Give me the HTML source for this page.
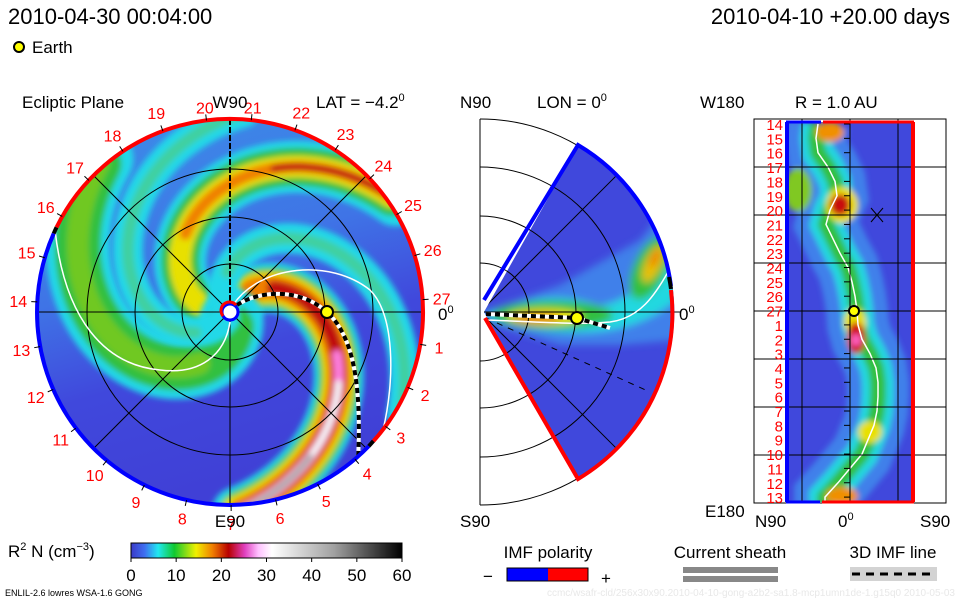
<!DOCTYPE html>
<html><head><meta charset="utf-8"><style>
html,body{margin:0;padding:0;background:#fff;}
svg{display:block;font-family:"Liberation Sans",sans-serif;}
</style></head><body>
<svg id="s" width="960" height="600" viewBox="0 0 960 600" xmlns="http://www.w3.org/2000/svg">
<defs>
<filter id="b4" x="-20%" y="-20%" width="140%" height="140%"><feGaussianBlur stdDeviation="4"/></filter>
<filter id="b3" x="-30%" y="-30%" width="160%" height="160%"><feGaussianBlur stdDeviation="3"/></filter>
<filter id="b6" x="-30%" y="-30%" width="160%" height="160%"><feGaussianBlur stdDeviation="6"/></filter>
<clipPath id="cc"><circle cx="230" cy="312" r="193"/></clipPath>
<clipPath id="wc"><path d="M484,312 L578,145 A193,193 0 0 1 578,479 Z"/></clipPath>
<clipPath id="rc"><rect x="786" y="122" width="128" height="380"/></clipPath>
<linearGradient id="bg1" x1="0" y1="0" x2="0.3" y2="1"><stop offset="0" stop-color="#3c8ee8"/><stop offset="0.45" stop-color="#3f74e6"/><stop offset="0.7" stop-color="#4048dc"/><stop offset="1" stop-color="#4040d6"/></linearGradient>
<linearGradient id="cbar" x1="0" x2="1" y1="0" y2="0">
<stop offset="0" stop-color="#3a3ac8"/><stop offset="0.05" stop-color="#3f6ef0"/><stop offset="0.1" stop-color="#20e8f0"/><stop offset="0.16" stop-color="#10c830"/><stop offset="0.24" stop-color="#f0f000"/><stop offset="0.3" stop-color="#f08000"/><stop offset="0.36" stop-color="#b80000"/><stop offset="0.42" stop-color="#e040c0"/><stop offset="0.47" stop-color="#ffc0ff"/><stop offset="0.52" stop-color="#ffffff"/><stop offset="0.75" stop-color="#a0a0a0"/><stop offset="1" stop-color="#000000"/></linearGradient>
</defs>

<text x="8" y="24" font-size="22" fill="#000">2010-04-30 00:04:00</text>
<text x="950" y="24" font-size="22" fill="#000" text-anchor="end">2010-04-10 +20.00 days</text>
<circle cx="19" cy="47" r="5" fill="#ffff00" stroke="#000" stroke-width="2"/>
<text x="32" y="53" font-size="17">Earth</text>

<text x="22" y="108" font-size="17">Ecliptic Plane</text>
<text x="316" y="108" font-size="17">LAT = −4.2<tspan dy="-7" font-size="11">0</tspan></text>
<text x="460" y="108" font-size="17">N90</text>
<text x="537" y="108" font-size="17">LON = 0<tspan dy="-7" font-size="11">0</tspan></text>
<text x="700" y="108" font-size="17">W180</text>
<text x="795" y="108" font-size="17">R = 1.0 AU</text>

<g id="ecl">
<circle cx="230" cy="312" r="193" fill="url(#bg1)"/>
<g id="arms" clip-path="url(#cc)"></g>
<g id="eclgrid" fill="none" stroke="#000" stroke-width="1"></g>
</g>

<g id="mer"></g>
<g id="rp"></g>

<g>
<text x="8" y="557" font-size="17">R<tspan dy="-7" font-size="11">2</tspan><tspan dy="7"> N (cm</tspan><tspan dy="-7" font-size="11">−3</tspan><tspan dy="7">)</tspan></text>
<rect x="131" y="543" width="271" height="15" fill="url(#cbar)" stroke="#000" stroke-width="1"/>
<g id="cbticks"></g>
</g>

<text x="548" y="558" font-size="17" text-anchor="middle">IMF polarity</text>
<text x="488" y="582" font-size="17" text-anchor="middle">−</text>
<rect x="507" y="568" width="41" height="13" fill="#0000ff"/>
<rect x="548" y="568" width="40" height="13" fill="#ff0000"/>
<rect x="507" y="568" width="81" height="13" fill="none" stroke="#000"/>
<text x="606" y="584" font-size="17" text-anchor="middle">+</text>
<text x="730" y="558" font-size="17" text-anchor="middle">Current sheath</text>
<rect x="683" y="567" width="95" height="6" fill="#888"/>
<rect x="683" y="576" width="95" height="6" fill="#888"/>
<text x="893" y="558" font-size="17" text-anchor="middle">3D IMF line</text>
<rect x="850" y="567" width="87" height="14" fill="#d3d3d3"/>
<line x1="852" y1="574" x2="935" y2="574" stroke="#000" stroke-width="3" stroke-dasharray="8,6"/>
<text x="5" y="596" font-size="9">ENLIL-2.6 lowres WSA-1.6 GONG</text>
<text x="955" y="596" font-size="10" fill="#e8e8e8" text-anchor="end">ccmc/wsafr-cld/256x30x90.2010-04-10-gong-a2b2-sa1.8-mcp1umn1de-1.g15q0   2010-05-03</text>
</svg>
<script>
const armPhase=[-68,170,74,-125,118];
const armLevel=[4,3,2,1,1];
const cbTicks=[0,10,20,30,40,50,60];
const carrLabels=[20,21,22,23,24,25,26,27,1,2,3,4,5,6,7,8,9,10,11,12,13,14,15,16,17,18,19];
const bandCenter=[818,816,818,828,835,837,830,826,833,840,848,852,855,857,858,862,870,876,878,878,877,874,868,862,850,838,825];
const rightLabels=[14,15,16,17,18,19,20,21,22,23,24,25,26,27,1,2,3,4,5,6,7,8,9,10,11,12,13];

const NS="http://www.w3.org/2000/svg";
function mk(tag,attrs,parent){const e=document.createElementNS(NS,tag);for(const k in attrs)e.setAttribute(k,attrs[k]);parent.appendChild(e);return e;}
const cx=230,cy=312,R=193,K=0.78;
function spiral(psi,r0,r1){let d="";for(let r=r0;r<=r1;r+=3){const t=(psi+K*r)*Math.PI/180;d+=(d?"L":"M")+(cx+r*Math.cos(t)).toFixed(1)+","+(cy+r*Math.sin(t)).toFixed(1);}return d;}
const arms=document.getElementById('arms');
const layerDefs={
 1:[["#20d8e8",30,8,200],["#40d0a0",12,40,200]],
 2:[["#20d8e8",64,8,200],["#30c040",46,15,200],["#70c820",22,60,200]],
 3:[["#20d8e8",52,8,200],["#30c040",38,12,200],["#e8e000",22,30,200],["#f08000",12,90,200],["#c01010",7,150,200]],
 4:[["#20d8e8",50,8,200],["#30c040",40,10,200],["#e8e000",32,20,200],["#f08000",24,30,200],["#c01010",14,50,200],["#ff80e0",9,115,200],["#f4f4f4",7,130,200],["#505050",3,165,200]]
};
armPhase.forEach((p,i)=>{
 const g=mk('g',{filter:'url(#b3)'},arms);
 
 
 layerDefs[armLevel[i]].forEach(L=>{mk('path',{d:spiral(p,L[2],L[3]),stroke:L[0],'stroke-width':L[1],fill:'none','stroke-linecap':'round'},g);});
});
const eg=document.getElementById('eclgrid');
[48,95,143].forEach(r=>mk('circle',{cx,cy,r},eg));
mk('line',{x1:cx-R,y1:cy,x2:cx+R,y2:cy},eg);
mk('line',{x1:cx,y1:cy,x2:cx,y2:cy+R},eg);
mk('line',{x1:cx,y1:cy-R,x2:cx,y2:cy,'stroke-width':2,'stroke-dasharray':'6,2'},eg);
[45,135].forEach(a=>{const t=a*Math.PI/180;mk('line',{x1:cx-R*Math.cos(t),y1:cy-R*Math.sin(t),x2:cx+R*Math.cos(t),y2:cy+R*Math.sin(t)},eg);});
const ecl=document.getElementById('ecl');
let w1=mk('path',{d:"M233,305 C260,265 330,258 370,290 C395,315 395,380 383,430",stroke:"#fff","stroke-width":1.5,fill:"none"},ecl);

let w2=mk('path',{d:"M230,322 C225,355 200,375 160,370 C105,365 65,320 55,230",stroke:"#fff","stroke-width":1.5,fill:"none"},ecl);

const imfD="M237,305 C260,290 300,288 327,312 C352,335 362,380 358,460";
mk('path',{d:imfD,stroke:"#fff","stroke-width":4,fill:"none"},ecl);
let im=mk('path',{d:imfD,stroke:"#000","stroke-width":4,fill:"none","stroke-dasharray":"5,4"},ecl);

function arcPath(a0,a1,r){const p=a=>[cx+r*Math.cos(a*Math.PI/180),cy+r*Math.sin(a*Math.PI/180)];const s=p(a0),e=p(a1);const large=((a1-a0+360)%360)>180?1:0;return `M${s[0].toFixed(1)},${s[1].toFixed(1)} A${r},${r} 0 ${large} 1 ${e[0].toFixed(1)},${e[1].toFixed(1)}`;}
let rr=mk('path',{d:arcPath(206,42,R),stroke:"#ff0000","stroke-width":4,fill:"none"},ecl);
let rb=mk('path',{d:arcPath(44,204,R),stroke:"#0000ff","stroke-width":4,fill:"none"},ecl);
mk('path',{d:arcPath(204,206,R),stroke:"#000","stroke-width":4,fill:"none"},ecl);
mk('path',{d:arcPath(42,44,R),stroke:"#000","stroke-width":4,fill:"none"},ecl);
let sun=mk('circle',{cx,cy,r:8,fill:"#fff",stroke:"#0000ff","stroke-width":3},ecl);
mk('path',{d:"M223,316 A8,8 0 0 1 236,305",stroke:"#ff0000","stroke-width":3,fill:"none"},ecl);
let ea=mk('circle',{cx:327,cy:312,r:6,fill:"#ffff00",stroke:"#000","stroke-width":2},ecl);
carrLabels.forEach((v,i)=>{const a=(-90-7+i*(360/27))*Math.PI/180;const r=i===0||i===1?206:212;
 const t=mk('text',{x:(cx+r*Math.cos(a)).toFixed(1),y:(cy+r*Math.sin(a)+6).toFixed(1),'font-size':16,fill:"#ff0000",'text-anchor':'middle'},ecl);
 t.textContent=v;
 mk('line',{x1:cx+R*Math.cos(a),y1:cy+R*Math.sin(a),x2:cx+(R+6)*Math.cos(a),y2:cy+(R+6)*Math.sin(a),stroke:"#000"},ecl);});
let tw=mk('text',{x:230,y:108,'font-size':17,'text-anchor':'middle'},ecl);tw.textContent="W90";
let te=mk('text',{x:230,y:527,'font-size':17,'text-anchor':'middle'},ecl);te.textContent="E90";
let t0=mk('text',{x:438,y:320,'font-size':17},ecl);t0.innerHTML='0<tspan dy="-7" font-size="11">0</tspan>';

const mer=document.getElementById('mer');
[49,96,145,193].forEach(r=>mk('path',{d:`M480,${312-r} A${r},${r} 0 0 1 480,${312+r}`,fill:"none",stroke:"#000"},mer));
mk('line',{x1:480,y1:119,x2:480,y2:505,stroke:"#000"},mer);
const wg=mk('g',{'clip-path':'url(#wc)'},mer);
mk('rect',{x:480,y:110,width:200,height:400,fill:"#4048dc"},wg);
const wb=mk('g',{filter:'url(#b4)'},wg);
mk('path',{d:"M484,312 L560,285 L640,240 L680,190 L680,340 L620,345 L560,345 L484,322Z",fill:"#3f80ea"},wb);
mk('path',{d:"M488,312 C530,298 560,292 600,306 C640,298 655,270 676,230 L676,300 C640,330 600,334 560,332 C530,330 500,324 488,318Z",fill:"#20d8e0"},wb);
mk('ellipse',{cx:553,cy:315,rx:60,ry:14,fill:"#30c040"},wb);
mk('ellipse',{cx:545,cy:317,rx:38,ry:8,fill:"#e8e000"},wb);
mk('ellipse',{cx:537,cy:318,rx:24,ry:5,fill:"#f08000"},wb);
mk('ellipse',{cx:650,cy:268,rx:16,ry:34,fill:"#30c040",transform:"rotate(25 650 268)"},wb);
mk('ellipse',{cx:653,cy:264,rx:8,ry:20,fill:"#e8c000",transform:"rotate(25 653 264)"},wb);
mk('ellipse',{cx:655,cy:258,rx:4,ry:10,fill:"#f08000",transform:"rotate(25 655 258)"},wb);
const mg=mk('g',{fill:"none",stroke:"#000",'clip-path':'url(#wc)'},mer);
[49,96,145].forEach(r=>mk('path',{d:`M480,${312-r} A${r},${r} 0 0 1 480,${312+r}`},mg));
mk('line',{x1:480,y1:312,x2:480+193*0.707,y2:312-193*0.707},mg);
mk('line',{x1:480,y1:312,x2:480+193*0.707,y2:312+193*0.707},mg);
mk('line',{x1:484,y1:312,x2:680,y2:312,stroke:"#000"},mer);
mk('line',{x1:486,y1:318,x2:650,y2:392,stroke:"#000",'stroke-dasharray':'6,6'},mer);
mk('path',{d:"M486,320 C540,322 580,325 610,322 C640,318 655,295 668,272",fill:"none",stroke:"#fff",'stroke-width':1.5},mer);
mk('path',{d:"M486,314 L577,318 L610,328",fill:"none",stroke:"#fff",'stroke-width':4},mer);
mk('path',{d:"M486,314 L577,318 L610,328",fill:"none",stroke:"#000",'stroke-width':4,'stroke-dasharray':'5,4'},mer);
mk('path',{d:"M484,300 L578,145 A193,193 0 0 1 671,286",fill:"none",stroke:"#0000ff",'stroke-width':4},mer);
mk('path',{d:"M485,318 L578,479 A193,193 0 0 0 671,290",fill:"none",stroke:"#ff0000",'stroke-width':4},mer);
mk('path',{d:"M669,277 A193,193 0 0 1 671,289",fill:"none",stroke:"#000",'stroke-width':4},mer);
let me=mk('circle',{cx:577,cy:318,r:6,fill:"#ffff00",stroke:"#000",'stroke-width':2},mer);
let t1=mk('text',{x:679,y:320,'font-size':17},mer);t1.innerHTML='0<tspan dy="-7" font-size="11">0</tspan>';
let t2=mk('text',{x:460,y:527,'font-size':17},mer);t2.textContent="S90";

const rp=document.getElementById('rp');
mk('rect',{x:754,y:119,width:192,height:384,fill:"#fff",stroke:"#000"},rp);
const rg=mk('g',{'clip-path':'url(#rc)'},rp);
mk('rect',{x:786,y:122,width:128,height:380,fill:"#4048dc"},rg);
const rb2=mk('g',{filter:'url(#b3)'},rg);
const ly=i=>124+i*14.35;
let dd="";bandCenter.forEach((x,i)=>{dd+=(i?"L":"M")+x+","+ly(i).toFixed(1);});
mk('path',{d:dd+" L825,505",fill:"none",stroke:"#3f80ea",'stroke-width':62},rb2);
mk('path',{d:dd+" L825,505",fill:"none",stroke:"#20d8e0",'stroke-width':32},rb2);
mk('path',{d:dd+" L825,505",fill:"none",stroke:"#30c040",'stroke-width':16},rb2);
[[830,132,14,10,"#f09000"],[798,190,14,22,"#80c820"],[842,205,16,18,"#e8e000"],[840,205,10,11,"#c81010"],[855,322,11,14,"#e8e000"],[856,338,9,16,"#d01010"],[856,340,5,6,"#ff60c0"],[870,432,12,11,"#e8e000"],[842,496,16,9,"#f09000"]].forEach(b=>mk('ellipse',{cx:b[0],cy:b[1],rx:b[2],ry:b[3],fill:b[4]},rb2));
let rw=mk('path',{d:dd+" L825,505",fill:"none",stroke:"#fff",'stroke-width':1.5},rp);

[167,215,263,311,359,407,455].forEach(y=>mk('line',{x1:754,y1:y,x2:946,y2:y,stroke:"#000"},rp));
[802,850,898].forEach(x=>mk('line',{x1:x,y1:119,x2:x,y2:503,stroke:"#000"},rp));
rightLabels.forEach((v,i)=>{mk('line',{x1:844,y1:ly(i),x2:850,y2:ly(i),stroke:"#000"},rp);
 const t=mk('text',{x:783,y:(ly(i)+6).toFixed(1),'font-size':15,fill:"#ff0000",'text-anchor':'end'},rp);t.textContent=v;
 });
mk('line',{x1:787,y1:122,x2:787,y2:502,stroke:"#0000ff",'stroke-width':4},rp);
mk('line',{x1:913,y1:122,x2:913,y2:502,stroke:"#ff0000",'stroke-width':4},rp);
mk('line',{x1:786,y1:122,x2:821,y2:122,stroke:"#0000ff",'stroke-width':3},rp);
mk('line',{x1:823,y1:122,x2:914,y2:122,stroke:"#ff0000",'stroke-width':3},rp);
mk('line',{x1:786,y1:502,x2:820,y2:502,stroke:"#0000ff",'stroke-width':3},rp);
mk('line',{x1:822,y1:502,x2:914,y2:502,stroke:"#ff0000",'stroke-width':3},rp);
mk('path',{d:"M871,208 L883,222 M883,208 L871,222",stroke:"#000",fill:"none"},rp);
let re=mk('circle',{cx:854,cy:311,r:5,fill:"#ffff00",stroke:"#000",'stroke-width':2},rp);
[["E180",705,517],["N90",755,527],["S90",920,527]].forEach(a=>{const t=mk('text',{x:a[1],y:a[2],'font-size':17},rp);t.textContent=a[0];});
let tz=mk('text',{x:838,y:527,'font-size':17},rp);tz.innerHTML='0<tspan dy="-7" font-size="11">0</tspan>';

const cbt=document.getElementById('cbticks');
cbTicks.forEach(v=>{const x=131+v/60*271;mk('line',{x1:x,y1:558,x2:x,y2:562,stroke:"#000"},cbt);
 const t=mk('text',{x:x,y:581,'font-size':17,'text-anchor':'middle'},cbt);t.textContent=v;
 });
</script>
</body></html>
